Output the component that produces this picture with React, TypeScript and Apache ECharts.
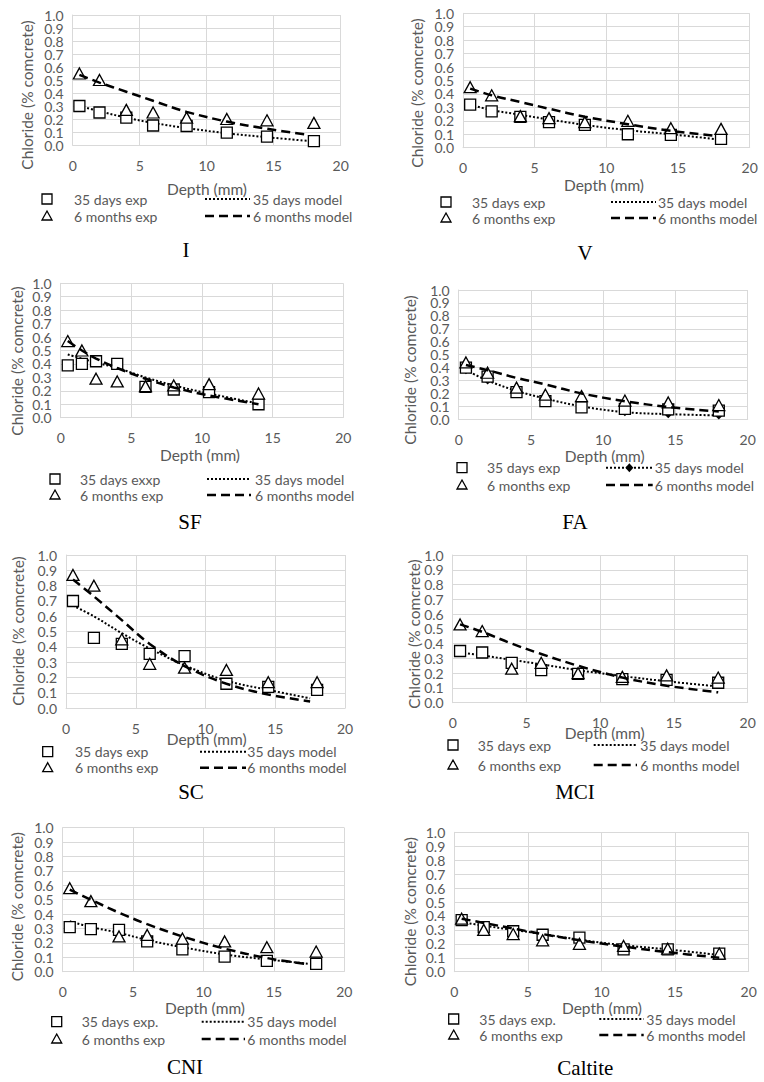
import React, { useEffect, useRef } from "react";
import * as echarts from "echarts";

// ---------- data ----------
const X_MIN = 0;
const X_MAX = 20;
const X_STEP = 5;
const Y_MIN = 0;
const Y_MAX = 1;
const Y_STEP = 0.1;
const Y_TICK_LABELS = ["0.0", "0.1", "0.2", "0.3", "0.4", "0.5", "0.6", "0.7", "0.8", "0.9", "1.0"];

const DEPTHS = [0.5, 2, 4, 6, 8.5, 11.5, 14.5, 18];
const DEPTHS_SF = [0.5, 1.5, 2.5, 4, 6, 8, 10.5, 14];
const MODEL_DEPTHS = [0.5, 2, 4, 6, 8.5, 11.5, 14.5, 17.5];
const MODEL_DEPTHS_18 = [0.5, 2, 4, 6, 8.5, 11.5, 14.5, 18];

const PANEL_TITLES = ["I", "V", "SF", "FA", "SC", "MCI", "CNI", "Caltite"];
const LEGEND_EXP35 = ["35 days exp", "35 days exp", "35 days exxp", "35 days exp", "35 days exp", "35 days exp", "35 days exp.", "35 days exp."];
const LEGEND_EXP6 = "6 months exp";
const LEGEND_MOD35 = "35 days model";
const LEGEND_MOD6 = "6 months model";
const X_TITLE = "Depth (mm)";
const Y_TITLE = "Chloride (% comcrete)";

const I_EXP35 = [0.30, 0.25, 0.21, 0.15, 0.146, 0.095, 0.064, 0.03];
const I_EXP6 = [0.55, 0.50, 0.27, 0.25, 0.21, 0.20, 0.19, 0.17];
const I_MOD35 = [0.30, 0.26, 0.21, 0.17, 0.13, 0.09, 0.06, 0.032];
const I_MOD6 = [0.54, 0.48, 0.41, 0.34, 0.255, 0.18, 0.125, 0.08];

const V_EXP35 = [0.32, 0.27, 0.23, 0.19, 0.17, 0.10, 0.095, 0.065];
const V_EXP6 = [0.45, 0.39, 0.235, 0.22, 0.19, 0.20, 0.145, 0.14];
const V_MOD35 = [0.32, 0.28, 0.245, 0.21, 0.17, 0.13, 0.10, 0.065];
const V_MOD6 = [0.44, 0.39, 0.34, 0.29, 0.23, 0.175, 0.125, 0.09];

const SF_EXP35 = [0.39, 0.40, 0.42, 0.40, 0.23, 0.21, 0.19, 0.10];
const SF_EXP6 = [0.57, 0.50, 0.29, 0.27, 0.235, 0.24, 0.25, 0.18];
const SF_MOD35 = [0.47, 0.44, 0.41, 0.37, 0.30, 0.24, 0.18, 0.105];
const SF_MOD6 = [0.57, 0.50, 0.44, 0.37, 0.29, 0.225, 0.165, 0.10];

const FA_EXP35 = [0.40, 0.33, 0.21, 0.14, 0.093, 0.08, 0.077, 0.067];
const FA_EXP6 = [0.44, 0.36, 0.245, 0.19, 0.18, 0.145, 0.13, 0.11];
const FA_MOD35 = [0.38, 0.30, 0.22, 0.16, 0.10, 0.055, 0.04, 0.03];
const FA_MOD6 = [0.42, 0.38, 0.32, 0.27, 0.20, 0.14, 0.095, 0.06];

const SC_EXP35 = [0.70, 0.46, 0.42, 0.355, 0.34, 0.16, 0.14, 0.12];
const SC_EXP6 = [0.87, 0.80, 0.45, 0.29, 0.265, 0.25, 0.17, 0.17];
const SC_MOD35 = [0.67, 0.60, 0.49, 0.39, 0.28, 0.18, 0.12, 0.065];
const SC_MOD6 = [0.84, 0.73, 0.575, 0.42, 0.275, 0.16, 0.09, 0.045];

const MCI_EXP35 = [0.35, 0.34, 0.27, 0.22, 0.195, 0.16, 0.155, 0.135];
const MCI_EXP6 = [0.53, 0.485, 0.23, 0.27, 0.20, 0.175, 0.185, 0.17];
const MCI_MOD35 = [0.34, 0.32, 0.29, 0.26, 0.22, 0.18, 0.145, 0.11];
const MCI_MOD6 = [0.53, 0.48, 0.40, 0.33, 0.25, 0.17, 0.115, 0.07];

const CNI_EXP35 = [0.31, 0.295, 0.29, 0.21, 0.155, 0.105, 0.075, 0.055];
const CNI_EXP6 = [0.58, 0.49, 0.245, 0.255, 0.23, 0.21, 0.17, 0.14];
const CNI_MOD35 = [0.35, 0.31, 0.27, 0.22, 0.17, 0.12, 0.085, 0.055];
const CNI_MOD6 = [0.57, 0.50, 0.41, 0.33, 0.245, 0.16, 0.095, 0.05];

const CAL_EXP35 = [0.37, 0.32, 0.29, 0.265, 0.245, 0.16, 0.16, 0.13];
const CAL_EXP6 = [0.38, 0.30, 0.27, 0.225, 0.20, 0.185, 0.165, 0.13];
const CAL_MOD35 = [0.355, 0.33, 0.30, 0.27, 0.23, 0.19, 0.16, 0.12];
const CAL_MOD6 = [0.38, 0.35, 0.31, 0.27, 0.225, 0.18, 0.14, 0.10];

const PANEL_DATA = [
  { depths: DEPTHS, modelDepths: MODEL_DEPTHS, exp35: I_EXP35, exp6: I_EXP6, mod35: I_MOD35, mod6: I_MOD6 },
  { depths: DEPTHS, modelDepths: MODEL_DEPTHS, exp35: V_EXP35, exp6: V_EXP6, mod35: V_MOD35, mod6: V_MOD6 },
  { depths: DEPTHS_SF, modelDepths: DEPTHS_SF, exp35: SF_EXP35, exp6: SF_EXP6, mod35: SF_MOD35, mod6: SF_MOD6 },
  { depths: DEPTHS, modelDepths: MODEL_DEPTHS_18, exp35: FA_EXP35, exp6: FA_EXP6, mod35: FA_MOD35, mod6: FA_MOD6 },
  { depths: DEPTHS, modelDepths: MODEL_DEPTHS, exp35: SC_EXP35, exp6: SC_EXP6, mod35: SC_MOD35, mod6: SC_MOD6 },
  { depths: DEPTHS, modelDepths: MODEL_DEPTHS_18, exp35: MCI_EXP35, exp6: MCI_EXP6, mod35: MCI_MOD35, mod6: MCI_MOD6 },
  { depths: DEPTHS, modelDepths: MODEL_DEPTHS, exp35: CNI_EXP35, exp6: CNI_EXP6, mod35: CNI_MOD35, mod6: CNI_MOD6 },
  { depths: DEPTHS, modelDepths: MODEL_DEPTHS_18, exp35: CAL_EXP35, exp6: CAL_EXP6, mod35: CAL_MOD35, mod6: CAL_MOD6 },
];

// ---------- layout (page pixels) ----------
type Layout = {
  l: number; t: number; r: number; b: number;
  yt: [number, number]; xt: [number, number];
  rows: [number, number];
  mx: number; tx: number; lx1: number; lx2: number; mtx: number;
  title: [number, number];
};
const LAYOUT: Layout[] = [
  { l: 72.7, t: 15, r: 340.7, b: 145, yt: [27, 95], xt: [207, 189], rows: [199, 216], mx: 47, tx: 74, lx1: 205, lx2: 250, mtx: 253, title: [186, 250] },
  { l: 463, t: 13.3, r: 749.7, b: 147.7, yt: [417, 93], xt: [604, 185], rows: [202, 218], mx: 446, tx: 472, lx1: 611, lx2: 656, mtx: 658, title: [585, 253] },
  { l: 60.7, t: 283.3, r: 343.3, b: 417.7, yt: [16.7, 361], xt: [200, 455], rows: [479, 495], mx: 55, tx: 80, lx1: 207, lx2: 251, mtx: 255, title: [190, 522] },
  { l: 458.7, t: 290, r: 747.7, b: 419.3, yt: [410.3, 370], xt: [604.7, 456], rows: [467.7, 485], mx: 462, tx: 487, lx1: 606, lx2: 652.7, mtx: 654.7, title: [575, 522] },
  { l: 66, t: 555, r: 345, b: 708.3, yt: [18.3, 631], xt: [206.7, 739], rows: [751.7, 767.7], mx: 47.7, tx: 75, lx1: 200, lx2: 246, mtx: 247.3, title: [191, 792] },
  { l: 452.7, t: 555, r: 747.7, b: 702.7, yt: [413.7, 634], xt: [604.7, 733], rows: [745, 765], mx: 453, tx: 477.7, lx1: 593.7, lx2: 637, mtx: 640.3, title: [575, 792] },
  { l: 62.7, t: 827.7, r: 344.3, b: 971.7, yt: [16.7, 906.7], xt: [205, 1008], rows: [1021.7, 1039], mx: 56.7, tx: 81.7, lx1: 201.7, lx2: 245, mtx: 247.3, title: [185, 1066.7] },
  { l: 454.3, t: 832.3, r: 748.7, b: 971.7, yt: [410.3, 911.7], xt: [602, 1008], rows: [1019, 1035], mx: 453.7, tx: 479.3, lx1: 599.3, lx2: 643.7, mtx: 646.3, title: [585.3, 1068] },
];

const W = 764;
const H = 1082;
const GRID_COLOR = "#d9d9d9";
const TEXT_COLOR = "#595959";
const FONT = "Lato";
const DOT = [2, 2];
const DASH = [9, 5];

function pair(xs: number[], ys: number[]) {
  return xs.map((x, i) => [x, ys[i]]);
}

function txt(x: number, y: number, text: string, opts: any = {}) {
  return {
    type: "text",
    x,
    y,
    rotation: opts.rotation || 0,
    silent: true,
    z: 10,
    style: {
      text,
      x: 0,
      y: 0,
      fill: opts.color || TEXT_COLOR,
      font: opts.font || `14px ${FONT}`,
      textAlign: opts.align || "left",
      textVerticalAlign: "middle",
      align: opts.align || "left",
      verticalAlign: "middle",
    },
  };
}

function buildOption() {
  const grid: any[] = [];
  const xAxis: any[] = [];
  const yAxis: any[] = [];
  const series: any[] = [];
  const graphic: any[] = [];

  LAYOUT.forEach((L, i) => {
    const d = PANEL_DATA[i];
    grid.push({ left: L.l, top: L.t, width: L.r - L.l, height: L.b - L.t, containLabel: false });
    xAxis.push({
      gridIndex: i,
      type: "value",
      min: X_MIN,
      max: X_MAX,
      interval: X_STEP,
      axisLine: { show: true, lineStyle: { color: GRID_COLOR, width: 1 } },
      axisTick: { show: false },
      splitLine: { show: true, lineStyle: { color: GRID_COLOR, width: 1 } },
      axisLabel: {
        color: TEXT_COLOR,
        fontFamily: FONT,
        fontSize: 14,
        margin: 13,
        showMinLabel: true,
        showMaxLabel: true,
      },
    });
    // value axis that carries the data and grid lines
    yAxis.push({
      gridIndex: i,
      type: "value",
      min: Y_MIN,
      max: Y_MAX,
      interval: Y_STEP,
      axisLine: { show: true, lineStyle: { color: GRID_COLOR, width: 1 } },
      axisTick: { show: false },
      splitLine: { show: true, lineStyle: { color: GRID_COLOR, width: 1 } },
      axisLabel: { show: false },
    });
    // companion category axis that prints every tick label (no overlap hiding)
    yAxis.push({
      gridIndex: i,
      type: "category",
      position: "left",
      boundaryGap: false,
      data: Y_TICK_LABELS,
      axisLine: { show: false },
      axisTick: { show: false },
      splitLine: { show: false },
      axisLabel: {
        interval: 0,
        color: TEXT_COLOR,
        fontFamily: FONT,
        fontSize: 14,
        lineHeight: 12,
        margin: 9,
        showMinLabel: true,
        showMaxLabel: true,
      },
    });
    const yIdx = 2 * i;

    const isFA = PANEL_TITLES[i] === "FA";
    series.push({
      name: LEGEND_MOD35,
      type: "line",
      xAxisIndex: i,
      yAxisIndex: yIdx,
      smooth: 0.35,
      showSymbol: isFA,
      symbol: isFA ? "diamond" : "none",
      symbolSize: 8,
      itemStyle: { color: "#000000" },
      lineStyle: { color: "#000000", width: 2, type: DOT, cap: "butt" },
      data: pair(d.modelDepths, d.mod35),
      z: 1,
    });
    series.push({
      name: LEGEND_EXP35[i],
      type: "scatter",
      xAxisIndex: i,
      yAxisIndex: yIdx,
      symbol: "rect",
      symbolSize: 11,
      itemStyle: { color: "#ffffff", borderColor: "#000000", borderWidth: 1.3, opacity: 1 },
      data: pair(d.depths, d.exp35),
      z: 2,
    });
    series.push({
      name: LEGEND_EXP6,
      type: "scatter",
      xAxisIndex: i,
      yAxisIndex: yIdx,
      symbol: "triangle",
      symbolSize: [12, 11],
      itemStyle: { color: "#ffffff", borderColor: "#000000", borderWidth: 1.3, opacity: 1 },
      data: pair(d.depths, d.exp6),
      z: 2,
    });
    series.push({
      name: LEGEND_MOD6,
      type: "line",
      xAxisIndex: i,
      yAxisIndex: yIdx,
      smooth: 0.35,
      showSymbol: false,
      symbol: "none",
      lineStyle: { color: "#000000", width: 2.5, type: DASH, cap: "butt" },
      data: pair(d.modelDepths, d.mod6),
      z: 3,
    });

    // axis titles
    graphic.push(txt(L.yt[0], L.yt[1], Y_TITLE, { rotation: Math.PI / 2, align: "center", font: `15.5px ${FONT}` }));
    graphic.push(txt(L.xt[0], L.xt[1], X_TITLE, { align: "center", font: `15.5px ${FONT}` }));

    // legend
    const [r1, r2] = L.rows;
    graphic.push({
      type: "rect",
      silent: true,
      shape: { x: L.mx - 5, y: r1 - 5, width: 10, height: 10 },
      style: { fill: "#ffffff", stroke: "#000000", lineWidth: 1.3 },
    });
    graphic.push({
      type: "polygon",
      silent: true,
      shape: { points: [[L.mx, r2 - 5], [L.mx + 5, r2 + 4], [L.mx - 5, r2 + 4]] },
      style: { fill: "#ffffff", stroke: "#000000", lineWidth: 1.3 },
    });
    graphic.push(txt(L.tx, r1, LEGEND_EXP35[i]));
    graphic.push(txt(L.tx, r2, LEGEND_EXP6));
    graphic.push({
      type: "line",
      silent: true,
      shape: { x1: L.lx1, y1: r1, x2: L.lx2, y2: r1 },
      style: { stroke: "#000000", lineWidth: 2, lineDash: DOT },
    });
    if (isFA) {
      const cx = (L.lx1 + L.lx2) / 2;
      graphic.push({
        type: "polygon",
        silent: true,
        shape: { points: [[cx, r1 - 4.5], [cx + 4, r1], [cx, r1 + 4.5], [cx - 4, r1]] },
        style: { fill: "#000000" },
      });
    }
    graphic.push({
      type: "line",
      silent: true,
      shape: { x1: L.lx1, y1: r2, x2: L.lx2, y2: r2 },
      style: { stroke: "#000000", lineWidth: 2.5, lineDash: DASH },
    });
    graphic.push(txt(L.mtx, r1, LEGEND_MOD35));
    graphic.push(txt(L.mtx, r2, LEGEND_MOD6));

    // panel label
    graphic.push(txt(L.title[0], L.title[1], PANEL_TITLES[i], { align: "center", color: "#000000", font: `21px "Liberation Serif"` }));
  });

  return {
    animation: false,
    backgroundColor: "#ffffff",
    grid,
    xAxis,
    yAxis,
    series,
    graphic,
  };
}

export default function App() {
  const ref = useRef<HTMLDivElement>(null);
  useEffect(() => {
    if (!ref.current) return;
    const chart = echarts.init(ref.current, undefined, { renderer: "svg" });
    chart.setOption(buildOption() as any);
    return () => chart.dispose();
  }, []);
  return (
    <div
      ref={ref}
      style={{ position: "absolute", left: 0, top: 0, width: W, height: H, background: "#ffffff" }}
    />
  );
}
